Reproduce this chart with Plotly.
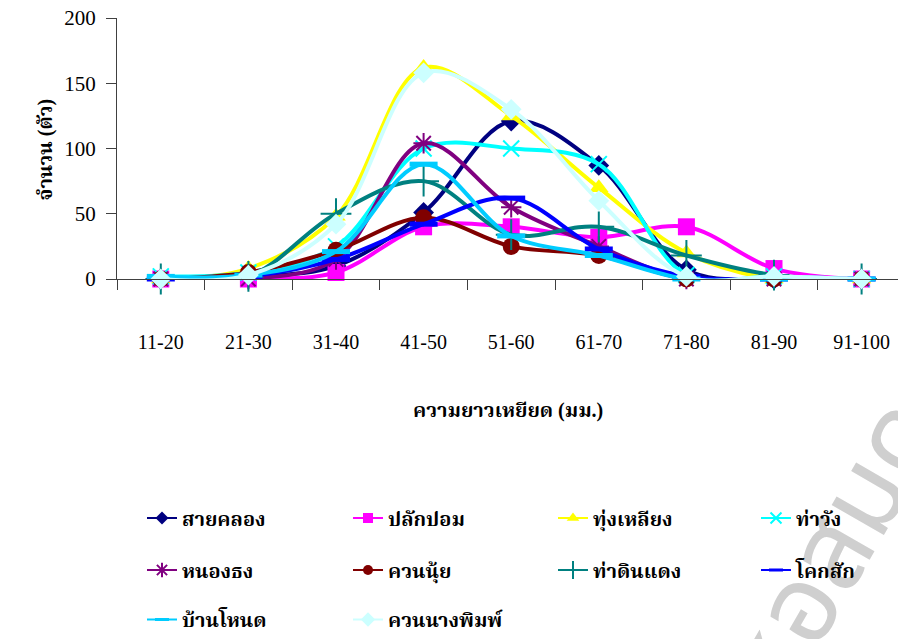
import plotly.graph_objects as go

# Length classes (mm)
categories = ["11-20", "21-30", "31-40", "41-50", "51-60", "61-70", "71-80", "81-90", "91-100"]

# Counts per length class for each site
sai_khlong = [0, 2, 10, 51, 121, 87, 7, 0, 0]
plak_pom = [0, 0, 5, 40, 40, 32, 40, 8, 0]
thung_liang = [0, 8, 48, 162, 125, 70, 20, 0, 0]
tha_wang = [2, 5, 25, 100, 100, 88, 3, 2, 0]
nong_thong = [0, 0, 15, 104, 55, 25, 0, 0, 0]
khuan_nui = [0, 5, 22, 47, 25, 18, 0, 0, 0]
tha_din_daeng = [0, 2, 50, 75, 34, 40, 18, 3, 0]
khok_sak = [0, 2, 15, 42, 62, 23, 2, 0, 0]
ban_not = [2, 3, 21, 88, 33, 18, 0, 0, 0]
khuan_nang_phim = [0, 3, 42, 158, 130, 60, 2, 2, 0]

y_ticks = [0, 50, 100, 150, 200]

SERIF = "Liberation Serif, Times New Roman, Noto Serif Thai, Noto Sans Thai, serif"

# name, values, color, symbol, plot marker size, marker line width, legend marker size
series = [
    ("สายคลอง", sai_khlong, "#000080", "diamond", 16, 0, 10),
    ("ปลักปอม", plak_pom, "#FF00FF", "square", 17, 0, 10),
    ("ทุ่งเหลียง", thung_liang, "#FFFF00", "triangle-up", 17, 0, 11),
    ("ท่าวัง", tha_wang, "#00FFFF", "x-thin-open", 16, 2, 11),
    ("หนองธง", nong_thong, "#800080", "asterisk-open", 17, 2, 12),
    ("ควนนุ้ย", khuan_nui, "#800000", "circle", 17, 0, 10),
    ("ท่าดินแดง", tha_din_daeng, "#008080", "cross-thin-open", 22, 2, 13),
    ("โคกสัก", khok_sak, "#0000FF", "line-ew", 20, 5, 10),
    ("บ้านโหนด", ban_not, "#00CCFF", "line-ew", 20, 5, 10),
    ("ควนนางพิมพ์", khuan_nang_phim, "#CCFFFF", "diamond", 16, 0, 11),
]

plot_top, plot_bottom, plot_left, plot_right = 18, 280, 117, 898
ph = plot_bottom - plot_top
pw = plot_right - plot_left


def py(pix):
    return (plot_bottom - pix) / ph


def px(pix):
    return (pix - plot_left) / pw


# legend grid: 4 columns, 3 rows
legend_cols = [142, 348, 553, 756]
legend_rows = [518, 570, 621]

xs = list(range(len(categories)))
fig = go.Figure()

for name, vals, color, sym, size, lw, lsize in series:
    marker = dict(symbol=sym, size=size, color=color)
    if lw:
        marker["line"] = dict(width=lw, color=color)
    fig.add_trace(go.Scatter(
        x=xs, y=vals, mode="lines+markers", name=name,
        line=dict(color=color, width=4, shape="spline", smoothing=1.0),
        marker=marker, cliponaxis=False, showlegend=False,
    ))

# legend entries with thin lines and small markers, one legend box per entry
legend_layout = {}
for i, (name, vals, color, sym, size, lw, lsize) in enumerate(series):
    marker = dict(symbol=sym, size=lsize, color=color)
    if lw:
        marker["line"] = dict(width=min(lw, 3), color=color)
    key = "legend" if i == 0 else f"legend{i + 1}"
    fig.add_trace(go.Scatter(
        x=[None], y=[None], mode="lines+markers", name=name,
        line=dict(color=color, width=2), marker=marker, legend=key,
    ))
    legend_layout[key] = dict(
        orientation="h", xanchor="left", yanchor="middle",
        x=px(legend_cols[i % 4]), y=py(legend_rows[i // 4]),
        font=dict(family=SERIF, size=20, color="black", weight="bold"),
        bgcolor="rgba(0,0,0,0)", itemclick=False, itemdoubleclick=False,
    )
fig.update_layout(**legend_layout)

fig.update_xaxes(
    range=[-0.5, -0.5 + pw / 87.6],
    tickmode="array", tickvals=xs, ticktext=categories,
    ticks="", ticklabelstandoff=45,
    tickfont=dict(family=SERIF, size=20, color="black"),
    showline=True, linecolor="#404040", linewidth=1,
    showgrid=False, zeroline=False,
    minor=dict(ticks="outside", ticklen=10, tickcolor="#404040", tickwidth=1,
               tickmode="array", tickvals=[i - 0.5 for i in range(len(categories) + 1)],
               showgrid=False),
)
fig.update_yaxes(
    range=[0, 200], tickmode="array", tickvals=y_ticks,
    ticks="outside", ticklen=10, tickcolor="#404040", tickwidth=1,
    ticklabelstandoff=6,
    tickfont=dict(family=SERIF, size=21, color="black"),
    showline=True, linecolor="#404040", linewidth=1,
    showgrid=False, zeroline=False,
)

fig.add_annotation(
    text="ความยาวเหยียด (มม.)", xref="paper", yref="paper",
    x=px(508), y=py(412), xanchor="center", yanchor="middle", showarrow=False,
    font=dict(family=SERIF, size=20, color="black", weight="bold"),
)
fig.add_annotation(
    text="จำนวน (ตัว)", xref="paper", yref="paper", textangle=-90,
    x=px(45), y=py(150), xanchor="center", yanchor="middle", showarrow=False,
    font=dict(family=SERIF, size=20, color="black", weight="bold"),
)

# library watermark, kept underneath the legend text
wx, wy = px(840), py(560)
fig.add_shape(
    type="rect", xref="paper", yref="paper", layer="below",
    x0=wx - 0.01, x1=wx + 0.01, y0=wy - 0.01, y1=wy + 0.01,
    line=dict(width=0), fillcolor="rgba(0,0,0,0)",
    label=dict(text="สำนักหอสมุดกลาง", textangle=-60, textposition="middle center",
               font=dict(family="Noto Sans Thai, Noto Sans, sans-serif", size=110,
                         color="#CFCFCF")),
)

fig.update_layout(
    width=898, height=639,
    margin=dict(l=plot_left, r=0, t=plot_top, b=639 - plot_bottom),
    paper_bgcolor="white", plot_bgcolor="white",
)

fig.write_html("out.html")
